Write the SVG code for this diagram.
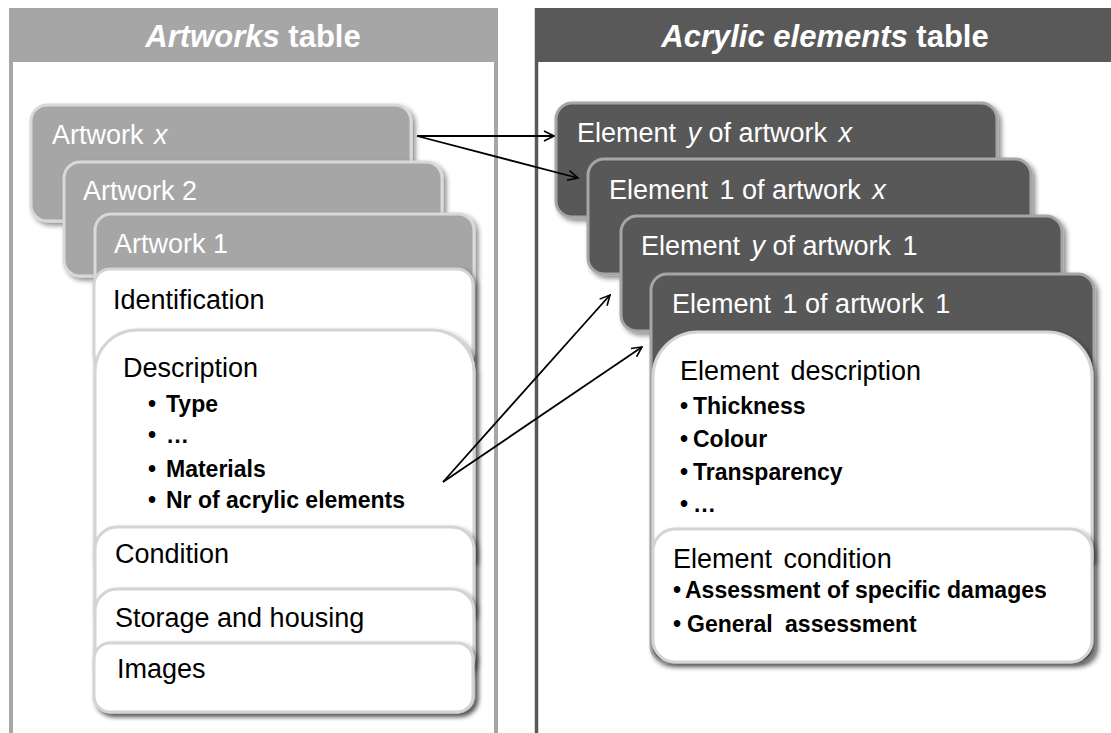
<svg xmlns="http://www.w3.org/2000/svg" width="1111" height="733" viewBox="0 0 1111 733">
<defs>
<filter id="sh" x="-10%" y="-10%" width="130%" height="130%">
<feDropShadow dx="3" dy="3" stdDeviation="2.5" flood-color="#000" flood-opacity="0.45"/>
</filter>
<marker id="ah" viewBox="0 0 12 12" markerWidth="12" markerHeight="12" refX="11" refY="6" orient="auto" markerUnits="userSpaceOnUse">
<path d="M1,1 L11,6 L1,11" fill="none" stroke="#000" stroke-width="1.6"/>
</marker>
</defs>
<style>
text{font-family:"Liberation Sans",Arial,sans-serif}
.hdr{font-size:31px;font-weight:bold;fill:#fff;text-anchor:middle}
.ct{font-size:27px;fill:#fff}
.bt{font-size:27px;fill:#000}
.bl{font-size:23px;font-weight:bold;fill:#000}
.lc{fill:#a6a6a6;stroke:#d9d9d9;stroke-width:3;filter:url(#sh)}
.dc{fill:#595959;stroke:#a6a6a6;stroke-width:3;filter:url(#sh)}
.wb{fill:#fff;stroke:#d4d4d4;stroke-width:3;filter:url(#sh)}
.cn{fill:none;stroke:#000;stroke-width:1.8;marker-end:url(#ah)}
</style>
<rect width="1111" height="733" fill="#fff"/>

<g id="panel-artworks">
<rect x="11" y="10" width="485" height="740" fill="#fff" stroke="#a6a6a6" stroke-width="4"/>
<rect x="9" y="8" width="489" height="54" fill="#a6a6a6"/>
<text class="hdr" x="253" y="47"><tspan font-style="italic">Artworks</tspan> table</text>
</g>

<g id="panel-acrylic">
<rect x="536.5" y="10" width="600" height="740" fill="#fff" stroke="#595959" stroke-width="3.5"/>
<rect x="535" y="8" width="580" height="54" fill="#595959"/>
<text class="hdr" x="825" y="47"><tspan font-style="italic">Acrylic elements</tspan> table</text>
</g>

<g id="artwork-x">
<rect class="lc" x="31" y="105" width="380" height="116" rx="16"/>
<text class="ct" x="52" y="144">Artwork <tspan font-style="italic" dx="3">x</tspan></text>
</g>
<g id="artwork-2">
<rect class="lc" x="64" y="162" width="378" height="114" rx="16"/>
<text class="ct" x="83" y="200">Artwork 2</text>
</g>
<g id="artwork-1">
<rect class="lc" x="95" y="214" width="379" height="498" rx="16"/>
<text class="ct" x="114" y="253">Artwork 1</text>
</g>

<g id="identification">
<rect class="wb" x="94" y="269" width="379" height="100" rx="16"/>
<text class="bt" x="113" y="309">Identification</text>
</g>
<g id="description">
<path class="wb" d="M95,560 L95,372 A42,42 0 0 1 137,330 L432,330 A42,42 0 0 1 474,372 L474,560 Z"/>
<text class="bt" x="123" y="377">Description</text>
<text class="bl"><tspan x="148" y="412">•</tspan><tspan x="166" y="412">Type</tspan></text>
<text class="bl"><tspan x="148" y="443">•</tspan><tspan x="166" y="443">…</tspan></text>
<text class="bl"><tspan x="148" y="477">•</tspan><tspan x="166" y="477">Materials</tspan></text>
<text class="bl"><tspan x="148" y="508">•</tspan><tspan x="166" y="508">Nr of acrylic elements</tspan></text>
</g>
<g id="condition">
<rect class="wb" x="95" y="527" width="379" height="100" rx="22"/>
<text class="bt" x="115" y="563">Condition</text>
</g>
<g id="storage">
<rect class="wb" x="95" y="589" width="379" height="90" rx="22"/>
<text class="bt" x="115" y="627">Storage and housing</text>
</g>
<g id="images">
<rect class="wb" x="94" y="643" width="379" height="69" rx="16"/>
<text class="bt" x="117" y="678">Images</text>
</g>

<g id="element-y-x">
<rect class="dc" x="556" y="103" width="441" height="114" rx="16"/>
<text class="ct" x="577" y="142">Element <tspan font-style="italic" dx="4">y</tspan> of artwork <tspan font-style="italic" dx="4">x</tspan></text>
</g>
<g id="element-1-x">
<rect class="dc" x="588" y="159" width="443" height="115" rx="16"/>
<text class="ct" x="609" y="199">Element <tspan dx="4">1</tspan> of artwork <tspan font-style="italic" dx="4">x</tspan></text>
</g>
<g id="element-y-1">
<rect class="dc" x="621" y="216" width="441" height="115" rx="16"/>
<text class="ct" x="641" y="255">Element <tspan font-style="italic" dx="4">y</tspan> of artwork <tspan dx="4">1</tspan></text>
</g>
<g id="element-1-1">
<rect class="dc" x="651" y="274" width="443" height="388" rx="16"/>
<text class="ct" x="672" y="313">Element <tspan dx="4">1</tspan> of artwork <tspan dx="4">1</tspan></text>
</g>
<g id="element-description">
<path class="wb" d="M653,560 L653,377 A45,45 0 0 1 698,332 L1047,332 A45,45 0 0 1 1092,377 L1092,560 Z"/>
<text class="bt" x="680" y="380">Element <tspan dx="4">description</tspan></text>
<text class="bl"><tspan x="680" y="414">•</tspan><tspan x="693" y="414">Thickness</tspan></text>
<text class="bl"><tspan x="680" y="447">•</tspan><tspan x="693" y="447">Colour</tspan></text>
<text class="bl"><tspan x="680" y="480">•</tspan><tspan x="693" y="480">Transparency</tspan></text>
<text class="bl"><tspan x="680" y="512">•</tspan><tspan x="693" y="512">…</tspan></text>
</g>
<g id="element-condition">
<rect class="wb" x="653" y="529" width="439" height="133" rx="22"/>
<text class="bt" x="673" y="568">Element <tspan dx="4">condition</tspan></text>
<text class="bl"><tspan x="673" y="598">•</tspan><tspan x="685" y="598">Assessment of specific damages</tspan></text>
<text class="bl"><tspan x="673" y="632">•</tspan><tspan x="687" y="632">General <tspan dx="6">assessment</tspan></tspan></text>
</g>

<g id="connectors">
<line class="cn" x1="417" y1="136" x2="554" y2="136"/>
<line class="cn" x1="417" y1="136" x2="578" y2="178"/>
<line class="cn" x1="443" y1="482" x2="610" y2="295"/>
<line class="cn" x1="443" y1="482" x2="642" y2="347"/>
</g>
</svg>
